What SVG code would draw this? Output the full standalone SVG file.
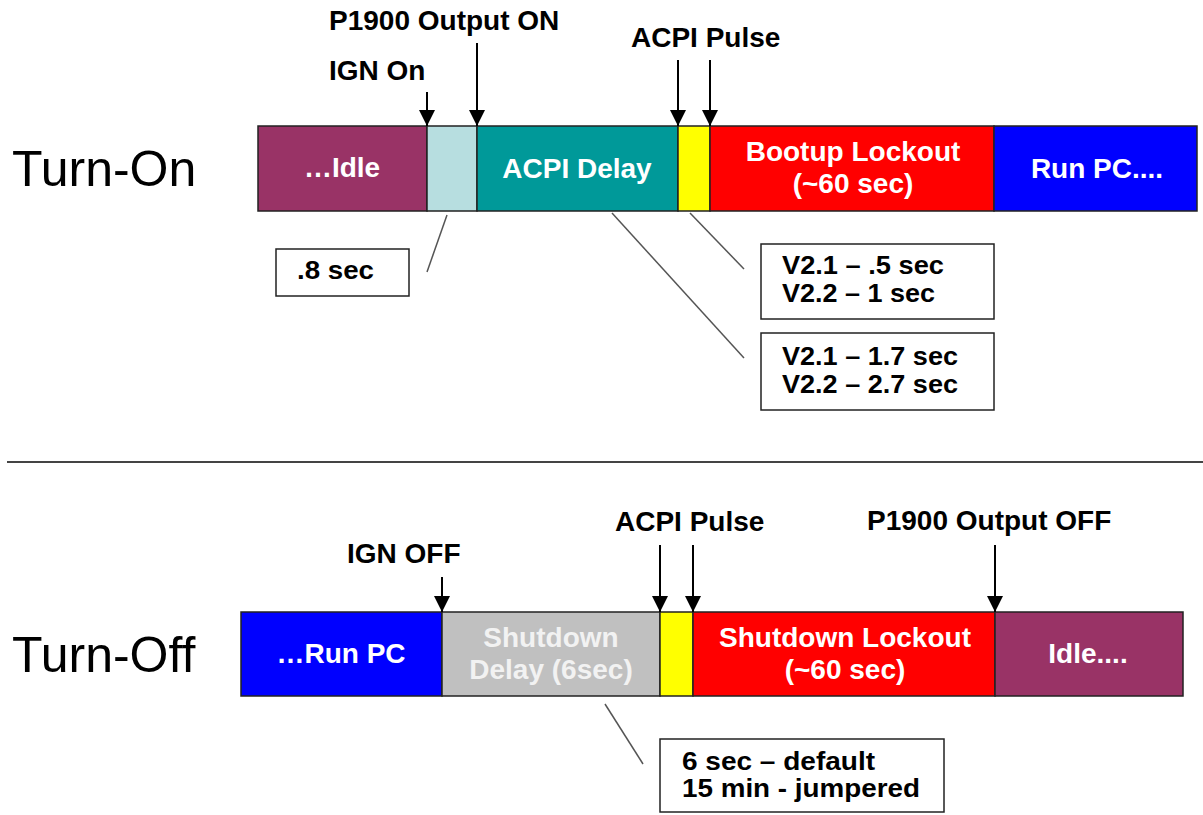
<svg xmlns="http://www.w3.org/2000/svg" width="1203" height="815" viewBox="0 0 1203 815">
<style>
.seg{stroke:#222;stroke-width:1.5}
.bt{font-family:"Liberation Sans",Arial,sans-serif;font-weight:bold;font-size:28px;fill:#fff;text-anchor:middle}
.lbl{font-family:"Liberation Sans",Arial,sans-serif;font-weight:bold;font-size:28px;fill:#000}
.big{font-family:"Liberation Sans",Arial,sans-serif;font-size:50px;fill:#000}
.box{fill:#fff;stroke:#222;stroke-width:1.5}
.bx{font-family:"Liberation Sans",Arial,sans-serif;font-weight:bold;font-size:25px;fill:#000}
.arr{stroke:#000;stroke-width:2;fill:none;marker-end:url(#ah)}
.lead{stroke:#555;stroke-width:1.5;fill:none}
</style>
<defs>
<marker id="ah" markerUnits="userSpaceOnUse" markerWidth="16" markerHeight="16" refX="16" refY="8" orient="auto">
<path d="M0,0 L16,8 L0,16 z" fill="#000"/>
</marker>
</defs>
<rect width="1203" height="815" fill="#fff"/>

<text class="big" x="12" y="186">Turn-On</text>
<text class="big" x="12" y="672">Turn-Off</text>

<line x1="7" y1="462" x2="1203" y2="462" stroke="#444" stroke-width="2"/>

<g id="on-idle"><rect class="seg" x="258" y="126" width="169" height="85" fill="#993366"/><text class="bt" x="342" y="177">…Idle</text></g>
<g id="on-gap"><rect class="seg" x="427" y="126" width="50" height="85" fill="#B7DEE0"/></g>
<g id="on-acpi-delay"><rect class="seg" x="477" y="126" width="201" height="85" fill="#009999"/><text class="bt" x="577" y="178">ACPI Delay</text></g>
<g id="on-pulse"><rect class="seg" x="678" y="126" width="32" height="85" fill="#FFFF00"/></g>
<g id="on-lockout"><rect class="seg" x="710" y="126" width="284" height="85" fill="#FF0000"/><text class="bt" x="853" y="161">Bootup Lockout</text><text class="bt" x="853" y="193">(~60 sec)</text></g>
<g id="on-run"><rect class="seg" x="994" y="126" width="203" height="85" fill="#0000FF"/><text class="bt" x="1097" y="178">Run PC....</text></g>

<g id="on-labels">
<text class="lbl" x="329" y="30">P1900 Output ON</text>
<text class="lbl" x="329" y="80">IGN On</text>
<text class="lbl" x="631" y="47">ACPI Pulse</text>
</g>

<g id="box-08"><rect class="box" x="276" y="249" width="133" height="47"/><text class="bx" x="297" y="279" textLength="77" lengthAdjust="spacingAndGlyphs">.8 sec</text></g>
<g id="box-v1"><rect class="box" x="761" y="244" width="233" height="75"/><text class="bx" x="782" y="274" textLength="162" lengthAdjust="spacingAndGlyphs">V2.1 – .5 sec</text><text class="bx" x="782" y="302" textLength="153" lengthAdjust="spacingAndGlyphs">V2.2 – 1 sec</text></g>
<g id="box-v2"><rect class="box" x="761" y="333" width="233" height="77"/><text class="bx" x="782" y="365" textLength="176" lengthAdjust="spacingAndGlyphs">V2.1 – 1.7 sec</text><text class="bx" x="782" y="393" textLength="176" lengthAdjust="spacingAndGlyphs">V2.2 – 2.7 sec</text></g>

<g id="off-run"><rect class="seg" x="241" y="612" width="201" height="84" fill="#0000FF"/><text class="bt" x="341" y="663">…Run PC</text></g>
<g id="off-delay"><rect class="seg" x="442" y="612" width="218" height="84" fill="#C0C0C0"/><text class="bt" x="551" y="647" style="fill:#F2F2F2">Shutdown</text><text class="bt" x="551" y="679" style="fill:#F2F2F2">Delay (6sec)</text></g>
<g id="off-pulse"><rect class="seg" x="660" y="612" width="33" height="84" fill="#FFFF00"/></g>
<g id="off-lockout"><rect class="seg" x="693" y="612" width="302" height="84" fill="#FF0000"/><text class="bt" x="845" y="647">Shutdown Lockout</text><text class="bt" x="845" y="679">(~60 sec)</text></g>
<g id="off-idle"><rect class="seg" x="995" y="612" width="188" height="84" fill="#993366"/><text class="bt" x="1088" y="663">Idle....</text></g>

<g id="off-labels">
<text class="lbl" x="347" y="563">IGN OFF</text>
<text class="lbl" x="615" y="531">ACPI Pulse</text>
<text class="lbl" x="867" y="530">P1900 Output OFF</text>
</g>

<g id="box-6sec"><rect class="box" x="660" y="739" width="284" height="73"/><text class="bx" x="682" y="770" textLength="193" lengthAdjust="spacingAndGlyphs">6 sec – default</text><text class="bx" x="682" y="797" textLength="238" lengthAdjust="spacingAndGlyphs">15 min - jumpered</text></g>

<g id="connectors">
<line class="arr" x1="427" y1="92" x2="427" y2="126"/>
<line class="arr" x1="477" y1="43" x2="477" y2="126"/>
<line class="arr" x1="678" y1="60" x2="678" y2="126"/>
<line class="arr" x1="710" y1="60" x2="710" y2="126"/>
<line class="arr" x1="442" y1="577" x2="442" y2="612"/>
<line class="arr" x1="660" y1="545" x2="660" y2="612"/>
<line class="arr" x1="693" y1="545" x2="693" y2="612"/>
<line class="arr" x1="995" y1="545" x2="995" y2="612"/>
<line class="lead" x1="447" y1="215" x2="427" y2="272"/>
<line class="lead" x1="690" y1="213" x2="744" y2="269"/>
<line class="lead" x1="612" y1="213" x2="744" y2="358"/>
<line class="lead" x1="605" y1="704" x2="643" y2="764"/>
</g>
</svg>
